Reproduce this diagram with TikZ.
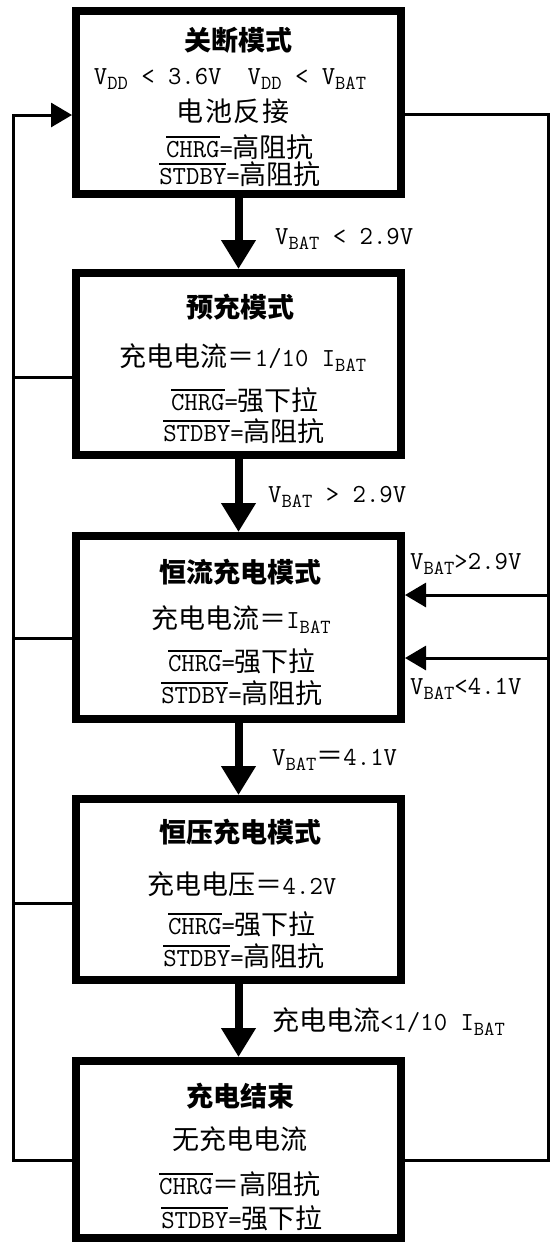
\documentclass[tikz,border=0pt]{standalone}
\usepackage{fontspec}
\newfontfamily\cjk{Noto Sans CJK SC}
\usetikzlibrary{arrows.meta}
\newsavebox\ovlbox
\newcommand\ovl[1]{\sbox\ovlbox{#1}\rlap{\rule[0.74em]{\wd\ovlbox}{1.3pt}}\usebox\ovlbox}
\newcommand\subs[1]{\raisebox{-5pt}{\fontsize{20}{20}\selectfont\ttfamily #1}}
\newcommand\cj[1]{{\fontsize{27}{30}\selectfont\cjk #1}}
\begin{document}
\begin{tikzpicture}[x=1pt,y=-1pt,
  box/.style={rectangle, draw, line width=8pt, minimum width=325pt, inner sep=0pt, outer sep=4pt},
  txt/.style={anchor=base, inner sep=0pt, font=\fontsize{26}{30}\selectfont\ttfamily},
  ttl/.style={anchor=base, inner sep=0pt, font=\fontsize{27}{30}\selectfont\cjk\bfseries},
  lbl/.style={anchor=base west, inner sep=0pt, font=\fontsize{26}{30}\selectfont\ttfamily},
  flow/.style={line width=8pt, -{Triangle[width=33pt,length=29pt]}},
  fb/.style={line width=3pt, line join=miter},
  fbarrow/.style={fb, -{Triangle[width=24pt,length=21pt]}}]
\useasboundingbox (0,0) rectangle (550,1242);
\fill[white] (0,0) rectangle (550,1242);
% boxes
\node[box, minimum height=183pt] (b1) at (238.5,102.5) {};
\node[box, minimum height=182pt] (b2) at (238.5,364) {};
\node[box, minimum height=183pt] (b3) at (238.5,627.5) {};
\node[box, minimum height=181pt] (b4) at (238.5,889.5) {};
\node[box, minimum height=177pt] (b5) at (238.5,1149.5) {};
% main flow
\draw[flow] (b1.south) -- (b2.north);
\draw[flow] (b2.south) -- (b3.north);
\draw[flow] (b3.south) -- (b4.north);
\draw[flow] (b4.south) -- (b5.north);
% left feedback
\coordinate (Lt) at (13.5,115);
\coordinate (L2) at (13.5,377);
\coordinate (L3) at (13.5,638);
\coordinate (L4) at (13.5,903);
\coordinate (Lb) at (13.5,1160);
\draw[fbarrow] (b5.west |- Lb) -- (Lb) -- (Lt) -- (b1.west |- Lt);
\draw[fb] (b2.west |- L2) -- (L2);
\draw[fb] (b3.west |- L3) -- (L3);
\draw[fb] (b4.west |- L4) -- (L4);
% right feedback
\coordinate (Rt) at (548,114);
\coordinate (R1) at (548,595);
\coordinate (R2) at (548,658);
\coordinate (Rb) at (548,1160);
\draw[fb] (b1.east |- Rt) -- (Rt) -- (Rb) -- (b5.east |- Rb);
\draw[fbarrow] (R1) -- (b3.east |- R1);
\draw[fbarrow] (R2) -- (b3.east |- R2);
% box 1
\node[ttl] (t1) at (238.5,50) {关断模式};
\node[txt] (t1a) at (230,84) {V\subs{DD} < 3.6V\hspace{26pt}V\subs{DD} < V\subs{BAT}};
\node[txt] (t1b) at (233,121) {\cj{电\hspace{2pt}池\hspace{2pt}反\hspace{2pt}接}};
\node[txt] (t1c) at (240,157) {\ovl{CHRG}=\cj{高阻抗}};
\node[txt] (t1d) at (240,184) {\ovl{STDBY}=\cj{高阻抗}};
% box 2
\node[ttl] (t2) at (240,317) {预充模式};
\node[txt] (t2a) at (243,366) {\cj{充电电流＝}1/10 I\subs{BAT}};
\node[txt] (t2b) at (245,410) {\ovl{CHRG}=\cj{强下拉}};
\node[txt] (t2c) at (244,441) {\ovl{STDBY}=\cj{高阻抗}};
% box 3
\node[ttl] (t3) at (240,582) {恒流充电模式};
\node[txt] (t3a) at (241,628) {\cj{充电电流＝}I\subs{BAT}};
\node[txt] (t3b) at (242,671) {\ovl{CHRG}=\cj{强下拉}};
\node[txt] (t3c) at (242,703) {\ovl{STDBY}=\cj{高阻抗}};
% box 4
\node[ttl] (t4) at (240,842) {恒压充电模式};
\node[txt] (t4a) at (242,894) {\cj{充电电压＝}4.2V};
\node[txt] (t4b) at (242,934) {\ovl{CHRG}=\cj{强下拉}};
\node[txt] (t4c) at (244,966) {\ovl{STDBY}=\cj{高阻抗}};
% box 5
\node[ttl] (t5) at (240,1106) {充电结束};
\node[txt] (t5a) at (240,1149) {\cj{无充电电流}};
\node[txt] (t5b) at (240,1194) {\ovl{CHRG}\cj{＝高阻抗}};
\node[txt] (t5c) at (242,1228) {\ovl{STDBY}=\cj{强下拉}};
% transition labels
\node[lbl] (l1) at (275,244) {V\subs{BAT} < 2.9V};
\node[lbl] (l2) at (268,502) {V\subs{BAT} > 2.9V};
\node[lbl] (l3) at (272,765) {V\subs{BAT}\cj{＝}4.1V};
\node[lbl] (l4) at (272,1030) {\cj{充电电流}<1/10 I\subs{BAT}};
\node[lbl] (l5) at (410,569) {V\subs{BAT}>2.9V};
\node[lbl] (l6) at (410,694) {V\subs{BAT}<4.1V};
\end{tikzpicture}
\end{document}
